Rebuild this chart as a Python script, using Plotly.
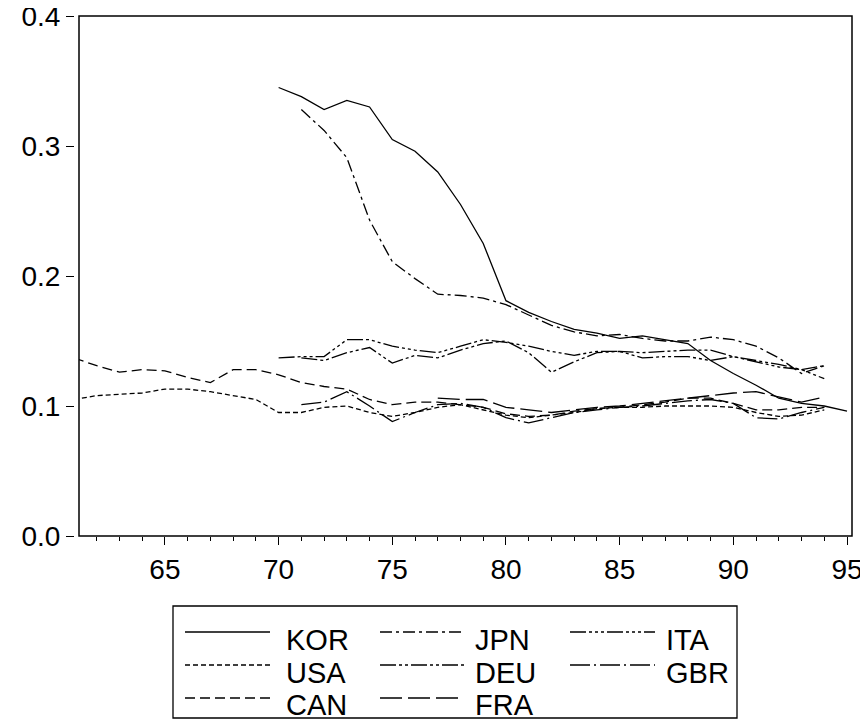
import plotly.graph_objects as go

# ---------------- data ----------------
kor_years = list(range(70, 96))
kor_vals = [0.345, 0.338, 0.328, 0.335, 0.330, 0.305, 0.296, 0.280, 0.255, 0.225,
            0.181, 0.172, 0.165, 0.159, 0.156, 0.152, 0.154, 0.151, 0.148, 0.135,
            0.125, 0.116, 0.106, 0.102, 0.100, 0.096]

jpn_years = list(range(71, 95))
jpn_vals = [0.328, 0.312, 0.291, 0.243, 0.211, 0.198, 0.186, 0.185, 0.183, 0.178,
            0.170, 0.162, 0.157, 0.154, 0.155, 0.152, 0.150, 0.150, 0.153, 0.151,
            0.146, 0.137, 0.125, 0.131]

ita_years = list(range(70, 95))
ita_vals = [0.137, 0.138, 0.138, 0.151, 0.151, 0.146, 0.143, 0.141, 0.146, 0.151,
            0.149, 0.146, 0.142, 0.139, 0.142, 0.142, 0.137, 0.138, 0.138, 0.135,
            0.138, 0.134, 0.130, 0.128, 0.121]

usa_years = list(range(61, 95))
usa_vals = [0.105, 0.108, 0.109, 0.110, 0.113, 0.113, 0.111, 0.108, 0.105, 0.095,
            0.095, 0.099, 0.100, 0.095, 0.092, 0.095, 0.099, 0.101, 0.097, 0.093,
            0.091, 0.093, 0.095, 0.098, 0.099, 0.099, 0.100, 0.100, 0.100, 0.099,
            0.095, 0.092, 0.093, 0.097]

deu_years = list(range(71, 95))
deu_vals = [0.137, 0.135, 0.141, 0.145, 0.133, 0.139, 0.137, 0.143, 0.148, 0.150,
            0.141, 0.126, 0.134, 0.141, 0.142, 0.141, 0.142, 0.143, 0.143, 0.138,
            0.135, 0.132, 0.128, 0.131]

gbr_years = list(range(71, 95))
gbr_vals = [0.101, 0.103, 0.111, 0.100, 0.088, 0.095, 0.101, 0.102, 0.099, 0.091,
            0.087, 0.091, 0.095, 0.097, 0.099, 0.100, 0.102, 0.104, 0.105, 0.102,
            0.091, 0.090, 0.095, 0.099]

can_years = list(range(61, 95))
can_vals = [0.137, 0.131, 0.126, 0.128, 0.127, 0.122, 0.118, 0.128, 0.128, 0.124,
            0.118, 0.115, 0.113, 0.105, 0.101, 0.103, 0.103, 0.101, 0.099, 0.094,
            0.092, 0.093, 0.096, 0.098, 0.099, 0.101, 0.103, 0.106, 0.106, 0.102,
            0.097, 0.097, 0.099, 0.099]

fra_years = list(range(77, 95))
fra_vals = [0.106, 0.105, 0.105, 0.099, 0.097, 0.095, 0.097, 0.099, 0.100, 0.102,
            0.104, 0.106, 0.108, 0.110, 0.111, 0.107, 0.103, 0.107]

x_ticks = [65, 70, 75, 80, 85, 90, 95]
y_ticks = [0.0, 0.1, 0.2, 0.3, 0.4]

# legend order (row-major, 3 columns) and line styles
series = [
    ("KOR", kor_years, kor_vals, "solid"),
    ("JPN", jpn_years, jpn_vals, "12px,4px,3px,4px"),
    ("ITA", ita_years, ita_vals, "16px,3px,3px,3px,3px,3px,3px,3px"),
    ("USA", usa_years, usa_vals, "5px,3px"),
    ("DEU", deu_years, deu_vals, "16px,3px,3px,3px,3px,3px"),
    ("GBR", gbr_years, gbr_vals, "20px,4px,2px,4px"),
    ("CAN", can_years, can_vals, "10px,5px"),
    ("FRA", fra_years, fra_vals, "22px,6px"),
]

# ---------------- layout geometry ----------------
# the page body adds an 8px offset; the figure is sized so it ends at the window edge
OFF = 8
W, H = 860, 714
ML, MR, MT, MB = 66, 16, 8, 186
PW = W - ML - MR
PH = H - MT - MB
FONT = "Liberation Sans, Arial, sans-serif"


def px_x(px):
    return (px - OFF - ML) / PW


def px_y(py):
    return (H - MB - (py - OFF)) / PH


fig = go.Figure()
for name, xs, ys, dash in series:
    fig.add_trace(go.Scatter(x=xs, y=ys, mode="lines", name=name,
                             line=dict(color="black", width=1.3, dash=dash),
                             showlegend=False))

x_dom0 = 5 / PW
fig.update_layout(
    width=W, height=H,
    margin=dict(l=ML, r=MR, t=MT, b=MB, pad=0, autoexpand=False),
    paper_bgcolor="white", plot_bgcolor="white",
    font=dict(family=FONT, color="black", size=28),
    xaxis=dict(domain=[x_dom0, 1], range=[61.22, 95.22], tickvals=x_ticks,
               ticks="outside", ticklen=8, tickwidth=1.2, tickcolor="black",
               showgrid=False, zeroline=False, showline=False, automargin=False,
               ticklabelstandoff=0, ticklabeloverflow="allow",
               minor=dict(dtick=1, tick0=61, ticks="outside", ticklen=4,
                          tickwidth=1, tickcolor="black", showgrid=False)),
    yaxis=dict(range=[0, 0.4], tickvals=y_ticks, tickformat=".1f",
               anchor="free", position=0, automargin=False,
               ticks="outside", ticklen=8, tickwidth=1.2, tickcolor="black",
               showgrid=False, zeroline=False, showline=False,
               ticklabelstandoff=0, ticklabeloverflow="allow"),
)

# plot frame
fig.add_shape(type="rect", xref="x domain", yref="y domain", x0=0, x1=1, y0=0, y1=1,
              line=dict(color="black", width=1.5), layer="above")

# legend box (drawn manually to match the reference layout)
fig.add_shape(type="rect", xref="paper", yref="paper",
              x0=px_x(173), x1=px_x(737), y0=px_y(718), y1=px_y(606),
              line=dict(color="black", width=1.3))
col_line = [(185, 270), (380, 464), (570, 655)]
col_text = [286, 475, 666]
row_line = [632, 665, 698]
row_text = [640, 673, 705]
for i, (name, xs, ys, dash) in enumerate(series):
    r, c = divmod(i, 3)
    fig.add_shape(type="line", xref="paper", yref="paper",
                  x0=px_x(col_line[c][0]), x1=px_x(col_line[c][1]),
                  y0=px_y(row_line[r]), y1=px_y(row_line[r]),
                  line=dict(color="black", width=1.3, dash=dash))
    fig.add_annotation(xref="paper", yref="paper", x=px_x(col_text[c]), y=px_y(row_text[r]),
                       text=name, showarrow=False, xanchor="left", yanchor="middle",
                       xshift=-2, font=dict(family=FONT, size=29, color="black"))

fig.write_html("out.html")
